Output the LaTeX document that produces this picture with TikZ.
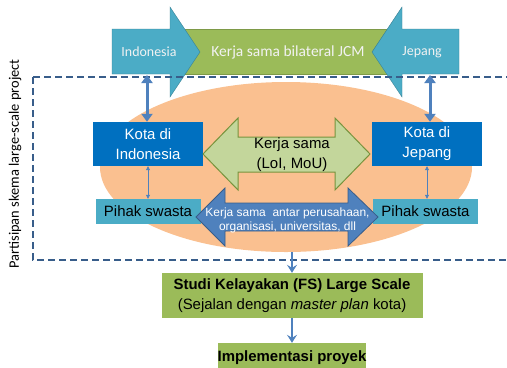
\documentclass[tikz,border=0pt]{standalone}
\usepackage{fontspec}
\setmainfont{Liberation Sans}
\newfontfamily\calibri{Carlito}
\usetikzlibrary{arrows.meta, shapes.geometric}

\definecolor{tealfill}{HTML}{4BACC6}
\definecolor{tealline}{HTML}{357D91}
\definecolor{olivefill}{HTML}{9BBB59}
\definecolor{oliveline}{HTML}{7E9A48}
\definecolor{peach}{HTML}{FAC090}
\definecolor{kotablue}{HTML}{0070C0}
\definecolor{linkblue}{HTML}{4F81BD}
\definecolor{dashblue}{HTML}{385D8A}
\definecolor{mougreen}{HTML}{C3D69B}
\definecolor{mouline}{HTML}{77933C}

\begin{document}
\begin{tikzpicture}[x=1bp, y=-1bp,
  kota/.style={rectangle, fill=kotablue, text=white, inner sep=0pt, minimum width=110bp, minimum height=44bp, align=center, font=\fontsize{15}{20}\selectfont},
  swasta/.style={rectangle, fill=tealfill, inner sep=0pt, minimum width=105bp, minimum height=25bp, font=\fontsize{15}{18}\selectfont},
  hasil/.style={rectangle, fill=olivefill, inner sep=0pt, align=center, font=\fontsize{15}{20}\selectfont},
  banner/.style={text=white!95!black, inner sep=0pt, font=\calibri\fontsize{14}{17}\selectfont},
  thicklink/.style={draw=linkblue, line width=3bp, {Triangle[length=8bp, width=11bp]}-{Triangle[length=8bp, width=11bp]}},
  thinlink/.style={draw=linkblue, line width=0.7bp, {Triangle[length=4bp, width=4bp]}-{Triangle[length=4bp, width=4bp]}},
  steplink/.style={draw=linkblue, line width=1.5bp, -{Stealth[length=8bp, width=10bp, inset=3bp]}}]
\clip (0, 0) rectangle (507, 367);

\node[ellipse, fill=peach, inner sep=0pt, minimum width=372bp, minimum height=170bp] (zona) at (286, 167) {};

\fill[olivefill, draw=oliveline] (180, 29) rectangle (395, 74);
\filldraw[fill=tealfill, draw=tealline] (112, 29) -- (170, 29) -- (170, 7) -- (200, 52) -- (170, 97) -- (170, 74) -- (112, 74) -- cycle;
\filldraw[fill=tealfill, draw=tealline] (459, 29) -- (402, 29) -- (402, 7) -- (372, 52) -- (402, 97) -- (402, 74) -- (459, 74) -- cycle;
\node[banner] (indo) at (149, 52) {Indonesia};
\node[banner, font=\calibri\fontsize{15.5}{18}\selectfont] (jcm) at (288, 52) {Kerja sama bilateral JCM};
\node[banner] (jpn) at (422, 52) {Jepang};
\coordinate (indoB) at (147, 75);
\coordinate (jpnB) at (430, 75);

\draw[dashblue, line width=1.3bp, dash pattern=on 7bp off 4bp] (33, 77) rectangle (530, 260);
\node[rotate=90, inner sep=0pt, font=\calibri\fontsize{14.5}{18}\selectfont] (partisipan) at (15, 164) {Partisipan skema large-scale project};

\node[kota] (kotaI) at (148, 144) {Kota di\\Indonesia};
\node[kota] (kotaJ) at (427, 144) {Kota di\\Jepang};
\node[swasta] (swastaI) at (148, 211.5) {Pihak swasta};
\node[swasta] (swastaJ) at (425.5, 211.5) {Pihak swasta};

\filldraw[fill=mougreen, draw=mouline, line width=1bp] (203, 154) -- (238, 118) -- (238, 137) -- (335, 137) -- (335, 118) -- (370, 154) -- (335, 190) -- (335, 172) -- (238, 172) -- (238, 190) -- cycle;
\node[align=center, inner sep=0pt, font=\fontsize{15}{20}\selectfont] (mou) at (292, 155) {Kerja sama\\(LoI, MoU)};

\filldraw[fill=linkblue, draw=dashblue, line width=0.8bp] (196, 217) -- (225, 188) -- (225, 203) -- (348, 203) -- (348, 188) -- (378, 217) -- (348, 246) -- (348, 231) -- (225, 231) -- (225, 246) -- cycle;
\node[align=center, inner sep=0pt, text=white, font=\fontsize{12}{14}\selectfont] (antar) at (287.5, 220) {Kerja sama\ \ antar perusahaan,\\organisasi, universitas, dll};

\node[hasil, minimum width=261bp, minimum height=45bp] (fs) at (292, 295.5) {\textbf{Studi Kelayakan (FS) Large Scale}\\(Sejalan dengan \textit{master plan} kota)};
\node[hasil, minimum width=140bp, minimum height=30bp] (impl) at (292, 358) {\textbf{Implementasi proyek}};

\draw[thicklink] (indoB) -- (indoB |- kotaI.north);
\draw[thicklink] (jpnB) -- (jpnB |- kotaJ.north);
\draw[thinlink] (kotaI.south) -- (swastaI.north);
\draw[thinlink] (kotaJ.south) -- (kotaJ.south |- swastaJ.north);
\draw[steplink] (fs.north |- zona.south) -- (fs.north);
\draw[steplink] (fs.south) -- (impl.north);

\end{tikzpicture}
\end{document}
